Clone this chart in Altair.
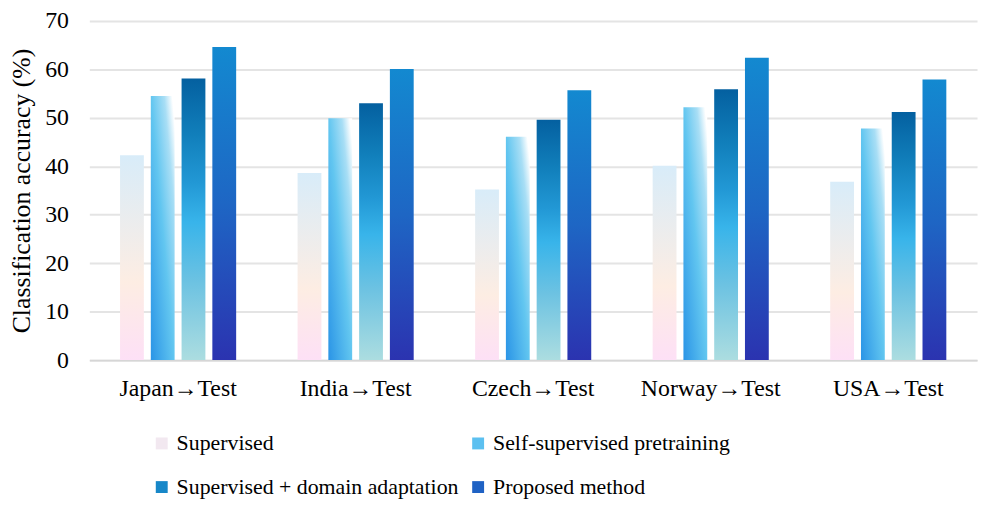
import altair as alt
import pandas as pd

categories = ["Japan→Test", "India→Test", "Czech→Test", "Norway→Test", "USA→Test"]
series = ["Supervised", "Self-supervised pretraining",
          "Supervised + domain adaptation", "Proposed method"]
supervised = [42.3, 38.6, 35.2, 40.1, 36.8]
self_supervised = [54.5, 49.9, 46.1, 52.2, 47.8]
domain_adapt = [58.1, 53.0, 49.6, 55.9, 51.2]
proposed = [64.6, 60.1, 55.7, 62.4, 57.9]
y_ticks = [0, 10, 20, 30, 40, 50, 60, 70]
legend_colors = ["#f2e8f0", "#5cc0f0", "#1787c8", "#1f62c4"]

values = [supervised, self_supervised, domain_adapt, proposed]
rows = []
for s, vals in zip(series, values):
    for c, v in zip(categories, vals):
        rows.append({"category": c, "series": s, "value": v})
df = pd.DataFrame(rows)

def stops(pairs):
    return [alt.GradientStop(offset=o, color=c) for o, c in pairs]

gradients = [
    alt.Gradient(gradient="linear", x1=0, x2=0, y1=1, y2=0,
                 stops=stops([(0, "#fde0f6"), (0.38, "#fdede3"), (1, "#d8ecf9")])),
    alt.Gradient(gradient="linear", x1=0, x2=1, y1=1, y2=0,
                 stops=stops([(0, "#2a94e6"), (0.5, "#62c6f0"), (0.78, "#a8def5"), (0.95, "#ffffff"), (1, "#ffffff")])),
    alt.Gradient(gradient="linear", x1=0, x2=0, y1=0, y2=1,
                 stops=stops([(0, "#0460a0"), (0.2, "#117fbb"), (0.37, "#2298d5"),
                              (0.51, "#38b4ea"), (0.72, "#6cc2e2"), (1, "#acdde0")])),
    alt.Gradient(gradient="linear", x1=0, x2=0, y1=0, y2=1,
                 stops=stops([(0, "#1389d0"), (0.5, "#1e66c4"), (1, "#2b33b0")])),
]

FONT = "Liberation Serif"
LEGEND_FONT = "Times New Roman, Liberation Serif, serif"

x_enc = alt.X("category:N", sort=categories,
              scale=alt.Scale(paddingInner=0.346, paddingOuter=0.173),
              axis=alt.Axis(title=None, labelAngle=0, ticks=False, domain=True,
                            domainColor="#d6d6d6", domainWidth=2, labelPadding=17,
                            grid=False))
xo_enc = alt.XOffset("series:N", sort=series,
                     scale=alt.Scale(domain=series, paddingInner=0.226, paddingOuter=0))
y_enc = alt.Y("value:Q", scale=alt.Scale(domain=[0, 70], nice=False),
              axis=alt.Axis(values=y_ticks, title="Classification accuracy (%)",
                            titleFontSize=26, titleFontWeight="normal", titleColor="black",
                            titleFont=FONT, titlePadding=10, labelPadding=21,
                            ticks=False, domain=False, grid=True,
                            gridColor="#e4e4e4", gridWidth=2))

layers = []
legend_layer = (
    alt.Chart(df)
    .transform_calculate(value="0")
    .mark_bar()
    .encode(
        x=x_enc, xOffset=xo_enc, y=y_enc,
        color=alt.Color("series:N", sort=series,
                        scale=alt.Scale(domain=series, range=legend_colors),
                        legend=alt.Legend(title=None, orient="none", legendX=62, legendY=415,
                                          direction="horizontal",
                                          columns=2, symbolType="square", symbolSize=144,
                                          symbolStrokeWidth=0, labelFont=LEGEND_FONT,
                                          labelFontSize=22, labelColor="black",
                                          labelFontWeight="normal",
                                          labelOffset=4, columnPadding=8, rowPadding=22,
                                          labelLimit=500)),
    )
)
layers.append(legend_layer)

for s, g in zip(series, gradients):
    layers.append(
        alt.Chart(df)
        .transform_filter(alt.datum.series == s)
        .mark_bar(fill=g)
        .encode(x=x_enc, xOffset=xo_enc, y=y_enc)
    )

chart = (
    alt.layer(*layers)
    .properties(width=895, height=342, autosize="none",
                padding={"left": 82, "top": 11, "right": 4, "bottom": 138})
    .configure(font=FONT)
    .configure_axis(labelFont=FONT, labelFontSize=24, labelColor="black")
    .configure_legend(labelFont=LEGEND_FONT, labelFontSize=22, labelColor="black")
    .configure_view(stroke=None)
)

chart.save("out.html", embed_options={"renderer": "svg", "actions": False})
